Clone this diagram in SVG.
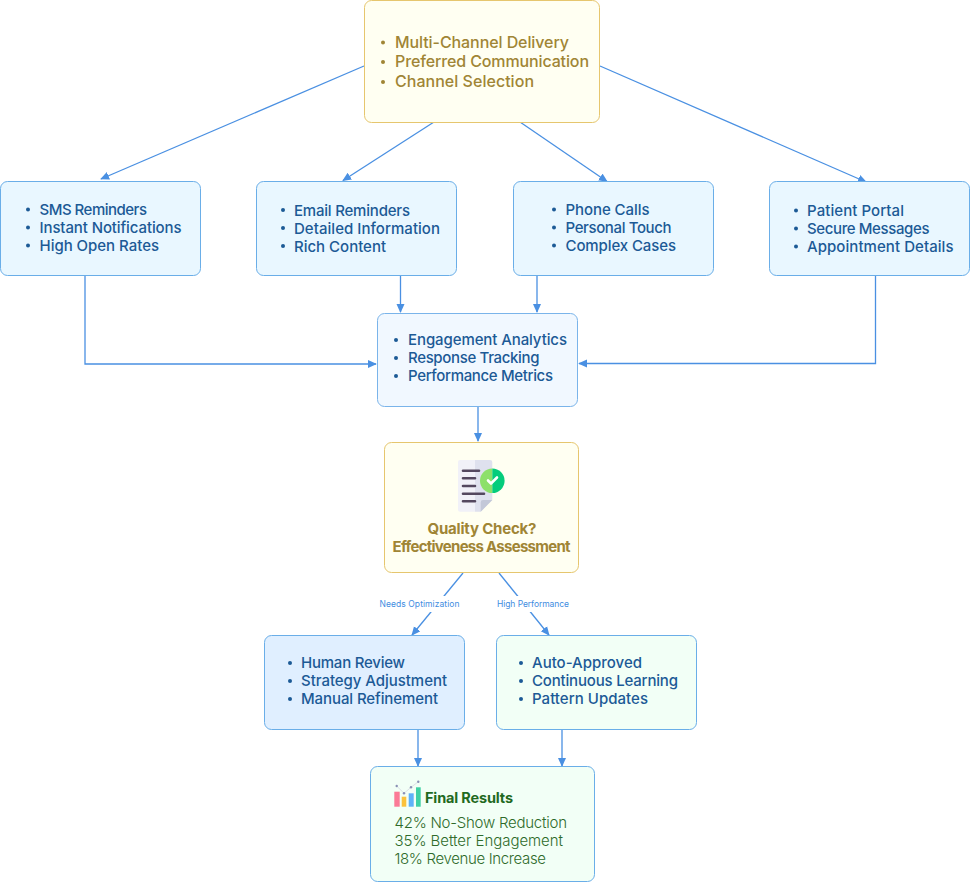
<svg xmlns="http://www.w3.org/2000/svg" width="970" height="882" viewBox="0 0 970 882">
<defs>
<marker id="arrow" viewBox="0 0 10 10" refX="9" refY="5" markerWidth="9" markerHeight="9" markerUnits="userSpaceOnUse" orient="auto"><path d="M0 0.5L10 5L0 9.5Z" fill="#4a90e2"/></marker>
</defs>
<style>
text{font-family:"Inter","Lato","Noto Sans","Liberation Sans",sans-serif;font-weight:500;font-size:15px}
.box{stroke-width:1}
.y{fill:#fffff2;stroke:#e6c66e}
.b{fill:#e9f7ff;stroke:#6aaee8}
.c{fill:#f1f8ff;stroke:#7ab4ea}
.h{fill:#e0efff;stroke:#6aaee8}
.g{fill:#f2fff6;stroke:#6aaee8}
.ty{fill:#a08535;font-weight:500;font-size:16px}
.tb{fill:#1c5a96;font-weight:500}
.tg{fill:#2e6b2a}
.dy{fill:#a08535}.db{fill:#1c5a96}
.lab{fill:#3f8ddf;font-size:8.500px;font-weight:400}
#connectors path{fill:none;stroke:#4a90e2;stroke-width:1.300;marker-end:url(#arrow)}
</style>
<g id="connectors">
<path d="M364 66L101 179"/>
<path d="M434 122L343 180.500"/>
<path d="M520 122L607 181.500"/>
<path d="M600 66L866 182"/>
<path d="M85 275V364H376"/>
<path d="M400.500 275V312"/>
<path d="M537 275V312"/>
<path d="M875.500 275V363.500H579"/>
<path d="M478 406V441"/>
<path d="M463 573L412 635"/>
<path d="M499 573L549 635"/>
<path d="M418 729V766"/>
<path d="M562 729V766"/>
</g>
<g id="label-needs"><rect x="378" y="596" width="84" height="16" fill="#fff"/><text class="lab" x="419.500" y="607" text-anchor="middle" textLength="80">Needs Optimization</text></g>
<g id="label-high"><rect x="496" y="596" width="75" height="16" fill="#fff"/><text class="lab" x="533" y="607" text-anchor="middle" textLength="72">High Performance</text></g>

<g id="channels">
<rect class="box y" x="364.500" y="0.500" width="235" height="122" rx="7"/>
<circle class="dy" cx="383" cy="42.500" r="2"/><circle class="dy" cx="383" cy="62" r="2"/><circle class="dy" cx="383" cy="82" r="2"/>
<text class="ty" x="395" y="47.500" textLength="174">Multi-Channel Delivery</text>
<text class="ty" x="395" y="67" textLength="194">Preferred Communication</text>
<text class="ty" x="395" y="87" textLength="139">Channel Selection</text>
</g>
<g id="sms">
<rect class="box b" x="0.500" y="181.500" width="200" height="94" rx="7"/>
<circle class="db" cx="28" cy="209.500" r="2"/><circle class="db" cx="28" cy="227.500" r="2"/><circle class="db" cx="28" cy="245.500" r="2"/>
<text class="tb" x="39.500" y="215" textLength="107.500">SMS Reminders</text>
<text class="tb" x="39.500" y="233" textLength="142">Instant Notifications</text>
<text class="tb" x="39.500" y="251" textLength="119.500">High Open Rates</text>
</g>
<g id="email">
<rect class="box b" x="256.500" y="181.500" width="200" height="94" rx="7"/>
<circle class="db" cx="283" cy="210" r="2"/><circle class="db" cx="283" cy="228" r="2"/><circle class="db" cx="283" cy="246" r="2"/>
<text class="tb" x="294" y="215.500" textLength="116">Email Reminders</text>
<text class="tb" x="294" y="233.500" textLength="146">Detailed Information</text>
<text class="tb" x="294" y="251.500" textLength="92">Rich Content</text>
</g>
<g id="phone">
<rect class="box b" x="513.500" y="181.500" width="200" height="94" rx="7"/>
<circle class="db" cx="554" cy="209.500" r="2"/><circle class="db" cx="554" cy="227.500" r="2"/><circle class="db" cx="554" cy="245.500" r="2"/>
<text class="tb" x="565.500" y="215" textLength="84">Phone Calls</text>
<text class="tb" x="565.500" y="233" textLength="106">Personal Touch</text>
<text class="tb" x="565.500" y="251" textLength="110.500">Complex Cases</text>
</g>
<g id="portal">
<rect class="box b" x="769.500" y="181.500" width="200" height="94" rx="7"/>
<circle class="db" cx="796" cy="210.500" r="2"/><circle class="db" cx="796" cy="228.500" r="2"/><circle class="db" cx="796" cy="246.500" r="2"/>
<text class="tb" x="807" y="216" textLength="97">Patient Portal</text>
<text class="tb" x="807" y="234" textLength="122.500">Secure Messages</text>
<text class="tb" x="807" y="252" textLength="146.500">Appointment Details</text>
</g>
<g id="analytics">
<rect class="box c" x="377.500" y="313.500" width="200" height="93" rx="7"/>
<circle class="db" cx="396" cy="340" r="2"/><circle class="db" cx="396" cy="358" r="2"/><circle class="db" cx="396" cy="376" r="2"/>
<text class="tb" x="408" y="345" textLength="159">Engagement Analytics</text>
<text class="tb" x="408" y="363" textLength="131.500">Response Tracking</text>
<text class="tb" x="408" y="381" textLength="145">Performance Metrics</text>
</g>
<g id="quality">
<rect class="box y" x="384.500" y="442.500" width="194" height="130" rx="7"/>
<path d="M460 460H475V511.700H460a2 2 0 0 1-2-2V462a2 2 0 0 1 2-2Z" fill="#f1f1f8"/>
<path d="M475 460H490a2.300 2.300 0 0 1 2.300 2.300V500L480.700 511.700H475Z" fill="#dfe1ee"/>
<path d="M492.300 500H483a2.300 2.300 0 0 0-2.300 2.300V511.700Z" fill="#c3c8d8"/>
<g stroke="#54485f" stroke-width="2.600" stroke-linecap="round"><path d="M463 470.700H479M463 478.300H475M463 486H475M463 493.700H484M463 501.300H475"/></g>
<path d="M492.300 468.400a12.300 12.300 0 0 0 0 24.600Z" fill="#8de06a"/>
<path d="M492.300 468.400a12.300 12.300 0 0 1 0 24.600Z" fill="#05cc7c"/>
<path d="M488 480.500L491 483.500L497 477.500" fill="none" stroke="#fff" stroke-width="2.600" stroke-linecap="round" stroke-linejoin="round"/>
<text class="ty" x="482" y="534" text-anchor="middle" textLength="109" style="font-weight:700;font-size:15px">Quality Check?</text>
<text class="ty" x="481.500" y="552" text-anchor="middle" textLength="178" style="font-weight:700;font-size:15px">Effectiveness Assessment</text>
</g>
<g id="human">
<rect class="box h" x="264.500" y="635.500" width="200" height="94" rx="7"/>
<circle class="db" cx="290" cy="663" r="2"/><circle class="db" cx="290" cy="681" r="2"/><circle class="db" cx="290" cy="699" r="2"/>
<text class="tb" x="301" y="668" textLength="104">Human Review</text>
<text class="tb" x="301" y="686" textLength="146">Strategy Adjustment</text>
<text class="tb" x="301" y="704" textLength="137">Manual Refinement</text>
</g>
<g id="approved">
<rect class="box g" x="496.500" y="635.500" width="200" height="94" rx="7"/>
<circle class="db" cx="521" cy="663" r="2"/><circle class="db" cx="521" cy="681" r="2"/><circle class="db" cx="521" cy="699" r="2"/>
<text class="tb" x="532" y="668" textLength="110">Auto-Approved</text>
<text class="tb" x="532" y="686" textLength="146">Continuous Learning</text>
<text class="tb" x="532" y="704" textLength="116">Pattern Updates</text>
</g>
<g id="results">
<rect class="box g" x="370.500" y="766.500" width="224" height="115" rx="7"/>
<path d="M396.700 786L404 793.300L411 787.300L418.300 781.700" fill="none" stroke="#d5d8e2" stroke-width="0.800"/>
<g fill="#8a90b5"><circle cx="396.700" cy="786" r="1.200"/><circle cx="404" cy="793.300" r="1.200"/><circle cx="411" cy="787.300" r="1.200"/><circle cx="418.300" cy="781.700" r="1.200"/></g>
<rect x="394.300" y="791.700" width="5.400" height="15" fill="#fb7a96"/>
<rect x="401.700" y="796.700" width="4.600" height="10" fill="#fbc23c"/>
<rect x="408.700" y="793.300" width="5" height="13.400" fill="#5eb2f8"/>
<rect x="416" y="787.300" width="4.700" height="19.400" fill="#3ed1a4"/>
<text class="tg" x="425" y="803" textLength="88" style="font-weight:700;fill:#1f6a1f;font-size:14.500px">Final Results</text>
<text class="tg" x="394.500" y="828" textLength="172.500" style="font-weight:300">42% No-Show Reduction</text>
<text class="tg" x="394.500" y="846" textLength="168.500" style="font-weight:300">35% Better Engagement</text>
<text class="tg" x="394.500" y="864" textLength="151.500" style="font-weight:300">18% Revenue Increase</text>
</g>
</svg>
